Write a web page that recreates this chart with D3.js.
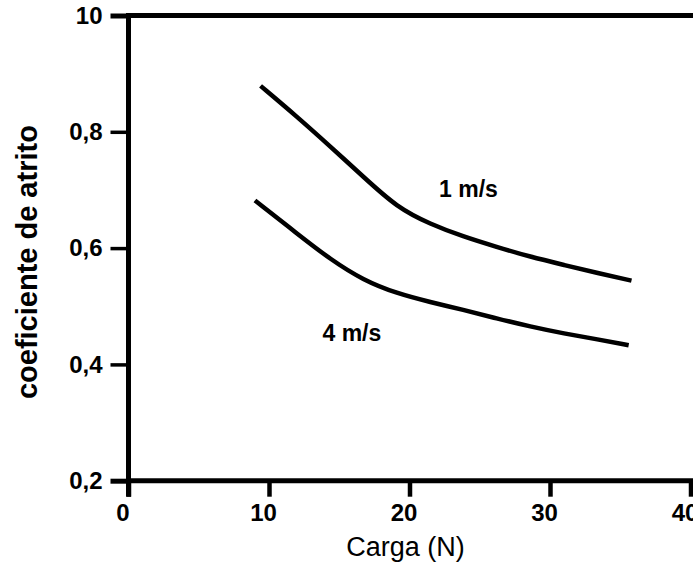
<!DOCTYPE html>
<html>
<head>
<meta charset="utf-8">
<script src="https://cdn.jsdelivr.net/npm/d3@7/dist/d3.min.js"></script>
<style>
  body { margin: 0; background: #fff; }
  svg { display: block; }
</style>
</head>
<body>
<svg id="chart" width="693" height="565"></svg>
<script>
// Friction coefficient versus normal load, at two sliding speeds
const load1 = [9.4, 12.0, 14.4, 16.7, 19.1, 21.5, 23.8, 26.2, 28.6, 31.0, 33.4, 35.8];
const mu1   = [0.879, 0.826, 0.774, 0.723, 0.670, 0.641, 0.620, 0.602, 0.585, 0.571, 0.557, 0.544];
const load4 = [9.0, 12.0, 14.4, 16.7, 19.1, 21.5, 23.8, 26.2, 28.6, 31.0, 33.4, 35.6];
const mu4   = [0.682, 0.625, 0.580, 0.545, 0.522, 0.507, 0.494, 0.479, 0.465, 0.453, 0.443, 0.433];

const seriesNames = ["1 m/s", "4 m/s"];
const xTickValues = [0, 10, 20, 30, 40];
const xTickLabels = ["0", "10", "20", "30", "40"];
const yTickValues = [0.2, 0.4, 0.6, 0.8, 1.0];
const yTickLabels = ["0,2", "0,4", "0,6", "0,8", "10"];
const xTitle = "Carga (N)";
const yTitle = "coeficiente de atrito";

// Where each series name sits, in data units (load, coefficient)
const nameAnchors = [[24.2, 0.702], [15.9, 0.454]];

const W = 693, H = 565;
const svg = d3.select("#chart");
svg.append("rect").attr("width", W).attr("height", H).attr("fill", "#fff");

const x = d3.scaleLinear().domain([0, 40]).range([128.5, 690.5]);
const y = d3.scaleLinear().domain([0.2, 1.0]).range([480.7, 15.5]);

const font = "'Liberation Sans', Arial, Helvetica, sans-serif";

// Top border of the plotting area
svg.append("line")
  .attr("x1", x(0)).attr("x2", W)
  .attr("y1", y(1.0)).attr("y2", y(1.0))
  .attr("stroke", "#000").attr("stroke-width", 5);

// Y axis
const yAxis = d3.axisLeft(y)
  .tickValues(yTickValues)
  .tickFormat((d, i) => yTickLabels[i])
  .tickSize(18)
  .tickPadding(8);
const gy = svg.append("g").attr("transform", `translate(${x(0)},0)`).call(yAxis);
gy.select(".domain").remove();
gy.selectAll(".tick line")
  .attr("stroke", "#000")
  .attr("stroke-width", d => (d === 1.0 || d === 0.2) ? 5 : 3.5);
gy.selectAll(".tick text")
  .attr("fill", "#000")
  .style("font-family", font)
  .style("font-weight", "bold")
  .style("font-size", "24px");

// X axis
const xAxis = d3.axisBottom(x)
  .tickValues(xTickValues)
  .tickFormat((d, i) => xTickLabels[i])
  .tickSize(16)
  .tickPadding(7);
const gx = svg.append("g").attr("transform", `translate(0,${y(0.2)})`).call(xAxis);
gx.select(".domain").remove();
gx.selectAll(".tick line").attr("stroke", "#000").attr("stroke-width", 4.5);
gx.selectAll(".tick text")
  .attr("fill", "#000")
  .attr("dx", -6)
  .style("font-family", font)
  .style("font-weight", "bold")
  .style("font-size", "24px");

// Axis lines
svg.append("line")
  .attr("x1", x(0)).attr("x2", W)
  .attr("y1", y(0.2)).attr("y2", y(0.2))
  .attr("stroke", "#000").attr("stroke-width", 5);
svg.append("line")
  .attr("x1", x(0)).attr("x2", x(0))
  .attr("y1", y(1.0) - 2.5).attr("y2", y(0.2) + 16)
  .attr("stroke", "#000").attr("stroke-width", 5);

// Curves
const line = d3.line()
  .x(d => x(d[0]))
  .y(d => y(d[1]))
  .curve(d3.curveBasis);

const series = [d3.zip(load1, mu1), d3.zip(load4, mu4)];
svg.append("g").selectAll("path")
  .data(series)
  .join("path")
  .attr("d", line)
  .attr("fill", "none")
  .attr("stroke", "#000")
  .attr("stroke-width", 4.5);

// Series names
svg.append("g").selectAll("text")
  .data(seriesNames)
  .join("text")
  .attr("x", (d, i) => x(nameAnchors[i][0]))
  .attr("y", (d, i) => y(nameAnchors[i][1]))
  .attr("dy", "0.36em")
  .attr("text-anchor", "middle")
  .style("font-family", font)
  .style("font-weight", "bold")
  .style("font-size", "23px")
  .text(d => d);

// Axis titles
svg.append("text")
  .attr("x", x(20) - 4)
  .attr("y", 556)
  .attr("text-anchor", "middle")
  .style("font-family", font)
  .style("font-size", "27px")
  .text(xTitle);

svg.append("text")
  .attr("transform", `translate(37,${(y(0.2) + y(1.0)) / 2 + 14}) rotate(-90)`)
  .attr("text-anchor", "middle")
  .style("font-family", font)
  .style("font-weight", "bold")
  .style("font-size", "29px")
  .text(yTitle);
</script>
</body>
</html>
